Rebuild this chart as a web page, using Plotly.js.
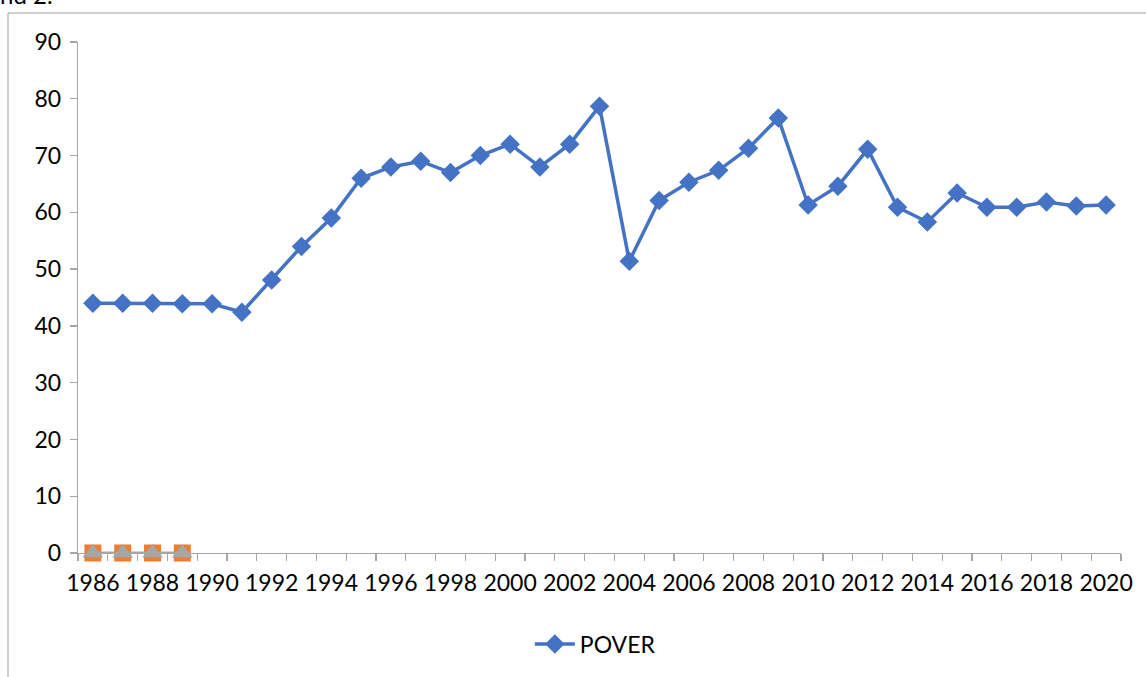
<!DOCTYPE html>
<html><head><meta charset="utf-8">
<script src="https://cdn.plot.ly/plotly-3.0.1.min.js"></script>
<style>html,body{margin:0;padding:0;background:#fff}#chart{width:1146px;height:677px}</style>
</head><body><div id="chart"></div>
<script>
const years = ["1986","1987","1988","1989","1990","1991","1992","1993","1994","1995","1996","1997","1998","1999","2000","2001","2002","2003","2004","2005","2006","2007","2008","2009","2010","2011","2012","2013","2014","2015","2016","2017","2018","2019","2020"];
const pover = [44.0,44.0,44.0,43.9,43.9,42.4,48.1,54.0,59.0,66.0,68.0,69.0,67.0,70.0,72.0,68.0,72.0,78.7,51.4,62.1,65.3,67.4,71.3,76.6,61.3,64.6,71.1,60.9,58.3,63.4,60.9,60.9,61.8,61.1,61.3];
const series2Years = ["1986","1987","1988","1989"];
const series2 = [0,0,0,0];
const series3 = [0,0,0,0];
const tickText = years.map((y,i)=> i%2===0 ? y : "");

const font = {family:"Lato, 'Noto Sans', sans-serif", size:23, color:"#000"};
const traces = [
  {x:series2Years, y:series2, type:"scatter", mode:"lines+markers", showlegend:false, cliponaxis:false,
   line:{color:"#ED7D31", width:2.5}, marker:{symbol:"square", size:17, color:"#ED7D31"}},
  {x:series2Years, y:series3, type:"scatter", mode:"lines+markers", showlegend:false, cliponaxis:false,
   line:{color:"#A5A5A5", width:2.5}, marker:{symbol:"triangle-up", size:18, color:"#A5A5A5"}},
  {x:years, y:pover, name:"POVER", type:"scatter", mode:"lines+markers", cliponaxis:false,
   line:{color:"#4472C4", width:3.5}, marker:{symbol:"diamond", size:15, color:"#4472C4"}}
];
const layout = {
  width:1146, height:677, paper_bgcolor:"#fff", plot_bgcolor:"#fff",
  margin:{l:78, r:25, t:42, b:124},
  font:font,
  xaxis:{type:"category", range:[-0.5, years.length-0.5], tickmode:"array", tickvals:years, ticktext:tickText, tickson:"boundaries",
    ticks:"outside", ticklen:7, tickcolor:"#a6a6a6", tickwidth:1.3, showline:true, linecolor:"#a6a6a6", linewidth:1.3,
    showgrid:false, zeroline:false, tickangle:0, tickfont:font, fixedrange:true, ticklabelstandoff:9},
  yaxis:{range:[0,90], dtick:10, tick0:0, ticks:"outside", ticklen:7, tickcolor:"#a6a6a6", tickwidth:1.3,
    showline:true, linecolor:"#a6a6a6", linewidth:1.3, showgrid:false, zeroline:false, tickfont:font, ticklabelstandoff:4},
  showlegend:true,
  legend:{orientation:"h", x:0.496, xanchor:"center", y:-0.178, yanchor:"middle", font:font, bgcolor:"rgba(0,0,0,0)", itemwidth:40},
  shapes:[
    {type:"line", xref:"paper", yref:"paper", x0:-0.0671, x1:-0.0671, y0:1.0568, y1:-0.25, line:{color:"#a0a0a0", width:1}},
    {type:"line", xref:"paper", yref:"paper", x0:-0.0671, x1:1.03, y0:1.0568, y1:1.0568, line:{color:"#a0a0a0", width:1}}
  ],
  annotations:[
    {text:"nd 2.", xref:"paper", yref:"paper", x:-0.077, xanchor:"left", y:1.092, yanchor:"middle", showarrow:false, font:{family:"Lato, sans-serif", size:24, color:"#000"}}
  ]
};
Plotly.newPlot("chart", traces, layout, {displayModeBar:false, staticPlot:true});
</script></body></html>
